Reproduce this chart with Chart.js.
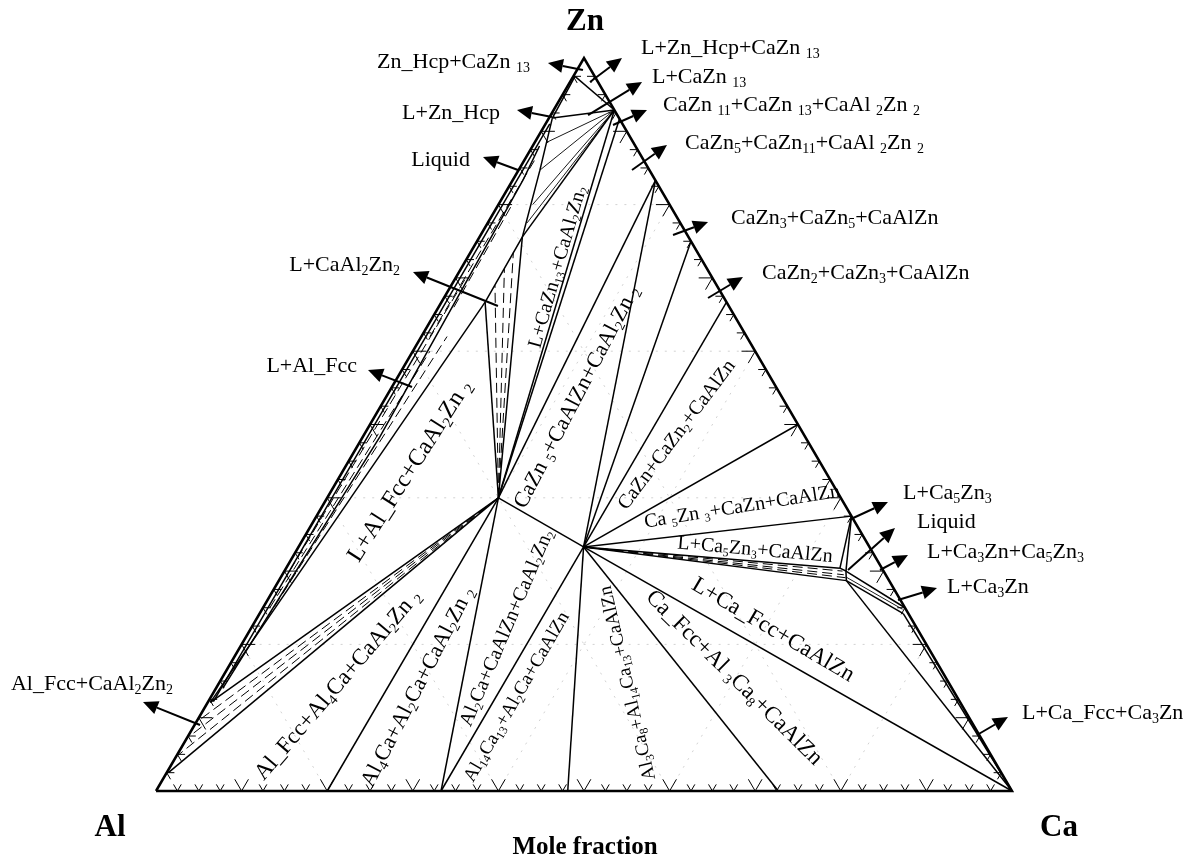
<!DOCTYPE html>
<html>
<head>
<meta charset="utf-8">
<script src="https://cdn.jsdelivr.net/npm/chart.js@4.4.0/dist/chart.umd.min.js"></script>
<style>
  html, body { margin: 0; background: #fff; }
  #wrap { width: 1204px; height: 863px; position: relative; }
</style>
</head>
<body>
<div id="wrap"><canvas id="chart"></canvas></div>
<script>
// ── PHASE POINTS, mole fractions [x(Ca), x(Zn)] ──
const Al = [0, 0], Ca = [1, 0], Zn = [0, 1];
const CaAl2Zn2 = [0.2, 0.4], CaAlZn = [0.333, 0.333];
const CaZn13 = [0.071, 0.929], CaZn11 = [0.083, 0.917], CaZn5 = [0.167, 0.833];
const CaZn3 = [0.25, 0.75], CaZn2 = [0.333, 0.667], CaZn = [0.5, 0.5];
const Ca5Zn3 = [0.625, 0.375], Ca3Zn = [0.75, 0.25];
const Al4Ca = [0.2, 0], Al2Ca = [0.333, 0], Al14Ca13 = [0.481, 0], Al3Ca8 = [0.727, 0];

// solution / liquid corners
const fccLow = [0.002, 0.025], fccHigh = [0.003, 0.121], hcpZn = [0.002, 0.975];
const liqA = [0.051, 0.667], liqB = [0.050, 0.756], liqC = [0.025, 0.847], liqD = [0.004, 0.918];
const liqE = [0.647, 0.304], liqF = [0.656, 0.300], liqG = [0.663, 0.287], liqH = [0.752, 0.242];
const bandEdge = [[0.006, 0.122], [0.005, 0.91]];
const bandMid = [[0.008, 0.14], [0.020, 0.483], [0.012, 0.834], [0.008, 0.88]];

const frame = [Al, Ca, Zn, Al];

const phaseLines = [
  [CaAl2Zn2, Al4Ca], [CaAl2Zn2, Al2Ca], [CaAl2Zn2, CaAlZn], [CaAl2Zn2, fccLow], [CaAl2Zn2, fccHigh],
  [CaAl2Zn2, liqA], [CaAl2Zn2, liqB], [CaAl2Zn2, CaZn13], [CaAl2Zn2, CaZn11], [CaAl2Zn2, CaZn5],
  [CaAlZn, Al2Ca], [CaAlZn, Al14Ca13], [CaAlZn, Al3Ca8], [CaAlZn, Ca], [CaAlZn, liqG], [CaAlZn, liqE],
  [CaAlZn, Ca5Zn3], [CaAlZn, CaZn], [CaAlZn, CaZn2], [CaAlZn, CaZn3], [CaAlZn, CaZn5],
  [fccHigh, liqA], [liqA, liqB, liqC, liqD], [liqB, CaZn13], [liqD, CaZn13], [hcpZn, CaZn13], [liqD, hcpZn],
  [Ca5Zn3, liqE], [Ca5Zn3, liqF], [liqE, liqF, liqG], [liqF, Ca3Zn], [liqG, liqH], [liqH, Ca], [liqG, Ca],
  bandEdge, bandMid
];

// tie lines inside the two-phase fields
const tieDashed = [
  [CaAl2Zn2, [0.002, 0.05]], [CaAl2Zn2, [0.002, 0.075]], [CaAl2Zn2, [0.003, 0.098]],
  [CaAl2Zn2, [0.051, 0.69]], [CaAl2Zn2, [0.051, 0.712]], [CaAl2Zn2, [0.050, 0.735]],
  [[0.010, 0.20], [0.030, 0.62]], [[0.008, 0.25], [0.020, 0.60]], [[0.006, 0.30], [0.012, 0.70]],
  [[0.010, 0.62], [0.012, 0.86]], [[0.018, 0.66], [0.016, 0.80]],
  [CaAlZn, [0.652, 0.300]], [CaAlZn, [0.656, 0.295]], [CaAlZn, [0.660, 0.291]]
];
const tieThin = [
  [CaZn13, [0.046, 0.775]], [CaZn13, [0.040, 0.80]], [CaZn13, liqC], [CaZn13, [0.014, 0.885]],
  [[0.660, 0.292], [0.748, 0.248]]
];

// ── ANNOTATIONS (plot units) ──
// text, align, text anchor, arrow tail, arrow head
const callouts = [
  ['Zn_Hcp+CaZn ~13', 'right', [0.4369, 0.9945], [0.4988, 0.9836], [0.4579, 0.9932]],
  ['L+Zn_Hcp', 'right', [0.4019, 0.9250], [0.4626, 0.9195], [0.4217, 0.9291]],
  ['Liquid', 'right', [0.3668, 0.8608], [0.4229, 0.8472], [0.3820, 0.8649]],
  ['L+CaAl~2Zn~2', 'right', [0.2850, 0.7176], [0.3995, 0.6617], [0.3002, 0.7081]],
  ['L+Al_Fcc', 'right', [0.2348, 0.5798], [0.2991, 0.5512], [0.2477, 0.5744]],
  ['Al_Fcc+CaAl~2Zn~2', 'right', [0.0199, 0.1460], [0.0514, 0.0900], [-0.0152, 0.1214]],
  ['L+Zn_Hcp+CaZn ~13', 'left', [0.5666, 1.0136], [0.5070, 0.9673], [0.5444, 1.0]],
  ['L+CaZn ~13', 'left', [0.5794, 0.9741], [0.5047, 0.9222], [0.5678, 0.9673]],
  ['CaZn ~11+CaZn ~13+CaAl ~2Zn ~2', 'left', [0.5923, 0.9359], [0.5339, 0.9086], [0.5736, 0.9291]],
  ['CaZn~5+CaZn~11+CaAl ~2Zn ~2', 'left', [0.6180, 0.8840], [0.5561, 0.8472], [0.5970, 0.8813]],
  ['CaZn~3+CaZn~5+CaAlZn', 'left', [0.6717, 0.7817], [0.6040, 0.7585], [0.6449, 0.7763]],
  ['CaZn~2+CaZn~3+CaAlZn', 'left', [0.7079, 0.7067], [0.6449, 0.6726], [0.6857, 0.7012]],
  ['L+Ca~5Zn~3', 'left', [0.8727, 0.4066], [0.8119, 0.3711], [0.8551, 0.3943]],
  ['Liquid', 'left', [0.8890, 0.3670], [0.8084, 0.3015], [0.8633, 0.3588]],
  ['L+Ca~3Zn+Ca~5Zn~3', 'left', [0.9007, 0.3261], [0.8458, 0.3015], [0.8785, 0.3220]],
  ['L+Ca~3Zn', 'left', [0.9241, 0.2783], [0.8668, 0.2606], [0.9124, 0.2769]],
  ['L+Ca_Fcc+Ca~3Zn', 'left', [1.0117, 0.1064], [0.9591, 0.0764], [0.9953, 0.1010]]
];

// text, centre, angle (deg), font px
const regionLabels = [
  ['L+Al_Fcc+CaAl~2Zn ~2', [0.2967, 0.4366], -57.5, 24],
  ['L+CaZn~13+CaAl~2Zn~2', [0.4696, 0.7149], -74, 20],
  ['CaZn ~5+CaAlZn+CaAl~2Zn ~2', [0.4918, 0.5375], -62.5, 22],
  ['CaZn+CaZn~2+CaAlZn', [0.6086, 0.4857], -53, 20],
  ['Ca ~5Zn ~3+CaZn+CaAlZn', [0.6846, 0.3874], -9, 20],
  ['L+Ca~5Zn~3+CaAlZn', [0.6998, 0.3288], 5, 20],
  ['L+Ca_Fcc+CaAlZn', [0.7208, 0.2196], 30.5, 23],
  ['Ca_Fcc+Al ~3Ca~8+CaAlZn', [0.6752, 0.1542], 44.7, 23],
  ['Al~3Ca~8+Al~14Ca~13+CaAlZn', [0.5514, 0.1473], -103, 19],
  ['Al~14Ca~13+Al~2Ca+CaAlZn', [0.4217, 0.1282], -60, 19],
  ['Al~2Ca+CaAlZn+CaAl~2Zn~2', [0.4100, 0.2224], -67, 20],
  ['Al~4Ca+Al~2Ca+CaAl~2Zn ~2', [0.3061, 0.1419], -62.7, 22],
  ['Al_Fcc+Al~4Ca+CaAl~2Zn ~2', [0.2126, 0.1446], -49.5, 23]
];

const cornerLabels = [['Zn', [0.5012, 1.0491]], ['Al', [-0.0537, -0.0505]], ['Ca', [1.0549, -0.0505]]];
const axisTitle = ['Mole fraction', [0.5012, -0.0778]];

const gridSteps = [0.2, 0.4, 0.6, 0.8];
const tickStep = 0.025;

const SERIF = "'Liberation Serif', 'Times New Roman', serif";

// ── HELPERS ──
const toXY = p => ({ x: p[0] + p[1] / 2, y: p[1] });

function lineSet(pts, width, dash) {
  return {
    data: pts.map(toXY), showLine: true, borderColor: '#000', borderWidth: width,
    borderDash: dash || [], pointRadius: 0, fill: false, tension: 0
  };
}

// "~12" marks a subscript
function richParts(str) {
  const parts = [];
  const re = /~(\d+)/g;
  let last = 0, m;
  while ((m = re.exec(str))) {
    if (m.index > last) parts.push([str.slice(last, m.index), false]);
    parts.push([m[1], true]);
    last = re.lastIndex;
  }
  if (last < str.length) parts.push([str.slice(last), false]);
  return parts;
}

function drawRich(ctx, str, x, y, size, align, bold) {
  const parts = richParts(str);
  const w8 = bold ? 'bold ' : '';
  const fN = w8 + size + 'px ' + SERIF;
  const fS = w8 + Math.round(size * 0.62) + 'px ' + SERIF;
  let w = 0;
  parts.forEach(p => { ctx.font = p[1] ? fS : fN; w += ctx.measureText(p[0]).width; });
  let cx = align === 'right' ? x - w : align === 'center' ? x - w / 2 : x;
  ctx.textAlign = 'left';
  ctx.textBaseline = 'middle';
  parts.forEach(p => {
    ctx.font = p[1] ? fS : fN;
    ctx.fillText(p[0], cx, y + (p[1] ? size * 0.28 : 0));
    cx += ctx.measureText(p[0]).width;
  });
}

function drawArrow(ctx, a, b) {
  const ang = Math.atan2(b[1] - a[1], b[0] - a[0]);
  const L = 15, W = 7;
  const bx = b[0] - L * Math.cos(ang), by = b[1] - L * Math.sin(ang);
  ctx.lineWidth = 2;
  ctx.beginPath(); ctx.moveTo(a[0], a[1]); ctx.lineTo(bx, by); ctx.stroke();
  ctx.beginPath();
  ctx.moveTo(b[0], b[1]);
  ctx.lineTo(bx - W * Math.sin(ang), by + W * Math.cos(ang));
  ctx.lineTo(bx + W * Math.sin(ang), by - W * Math.cos(ang));
  ctx.closePath(); ctx.fill();
}

// ── GRID, TICKS AND TEXT ──
const ternaryDecor = {
  id: 'ternaryDecor',
  beforeDatasetsDraw(chart) {
    const { ctx, scales } = chart;
    const T = p => [scales.x.getPixelForValue(p[0] + p[1] / 2), scales.y.getPixelForValue(p[1])];
    ctx.save();
    ctx.strokeStyle = '#d2d2d2';
    ctx.lineWidth = 1;
    ctx.setLineDash([2, 7]);
    gridSteps.forEach(k => {
      [[[0, k], [1 - k, k]], [[k, 0], [k, 1 - k]], [[1 - k, 0], [0, 1 - k]]].forEach(s => {
        const a = T(s[0]), b = T(s[1]);
        ctx.beginPath(); ctx.moveTo(a[0], a[1]); ctx.lineTo(b[0], b[1]); ctx.stroke();
      });
    });
    ctx.restore();
  },
  afterDatasetsDraw(chart) {
    const { ctx, scales } = chart;
    const S = p => [scales.x.getPixelForValue(p[0]), scales.y.getPixelForValue(p[1])];
    const T = p => S([p[0] + p[1] / 2, p[1]]);
    ctx.save();
    ctx.strokeStyle = '#000';
    ctx.fillStyle = '#000';

    // edge ticks
    ctx.lineWidth = 1;
    const n = Math.round(1 / tickStep);
    for (let i = 1; i < n; i++) {
      const t = i * tickStep, d = i % 4 === 0 ? 0.016 : 0.009;
      const marks = [
        [[t, 0], [t, d], [t - d, d]],
        [[1 - t, t], [1 - t - d, t], [1 - t, t - d]],
        [[0, t], [d, t], [d, t - d]]
      ];
      marks.forEach(m => {
        const o = T(m[0]), a = T(m[1]), b = T(m[2]);
        ctx.beginPath();
        ctx.moveTo(a[0], a[1]); ctx.lineTo(o[0], o[1]); ctx.lineTo(b[0], b[1]);
        ctx.stroke();
      });
    }

    // callouts
    callouts.forEach(c => {
      const p = S(c[2]);
      drawRich(ctx, c[0], p[0], p[1], 22, c[1], false);
      drawArrow(ctx, S(c[3]), S(c[4]));
    });

    // labels inside the fields
    regionLabels.forEach(r => {
      const p = S(r[1]);
      ctx.save();
      ctx.translate(p[0], p[1]);
      ctx.rotate(r[2] * Math.PI / 180);
      drawRich(ctx, r[0], 0, 0, r[3], 'center', false);
      ctx.restore();
    });

    cornerLabels.forEach(c => {
      const p = S(c[1]);
      drawRich(ctx, c[0], p[0], p[1], 31, 'center', true);
    });
    const tp = S(axisTitle[1]);
    drawRich(ctx, axisTitle[0], tp[0], tp[1], 25, 'center', true);
    ctx.restore();
  }
};

// ── CHART ──
const datasets = [
  ...tieDashed.map(s => lineSet(s, 1, [10, 5])),
  ...tieThin.map(s => lineSet(s, 0.9)),
  ...phaseLines.map(s => lineSet(s, 1.5)),
  lineSet(frame, 2.5)
];

new Chart(document.getElementById('chart'), {
  type: 'scatter',
  data: { datasets },
  options: {
    responsive: true,
    maintainAspectRatio: false,
    animation: false,
    events: [],
    layout: { padding: 0 },
    plugins: { legend: { display: false }, tooltip: { enabled: false } },
    scales: {
      x: { type: 'linear', min: -0.18224, max: 1.22430, display: false },
      y: { type: 'linear', min: -0.09823, max: 1.07913, display: false }
    }
  },
  plugins: [ternaryDecor]
});
</script>
</body>
</html>
